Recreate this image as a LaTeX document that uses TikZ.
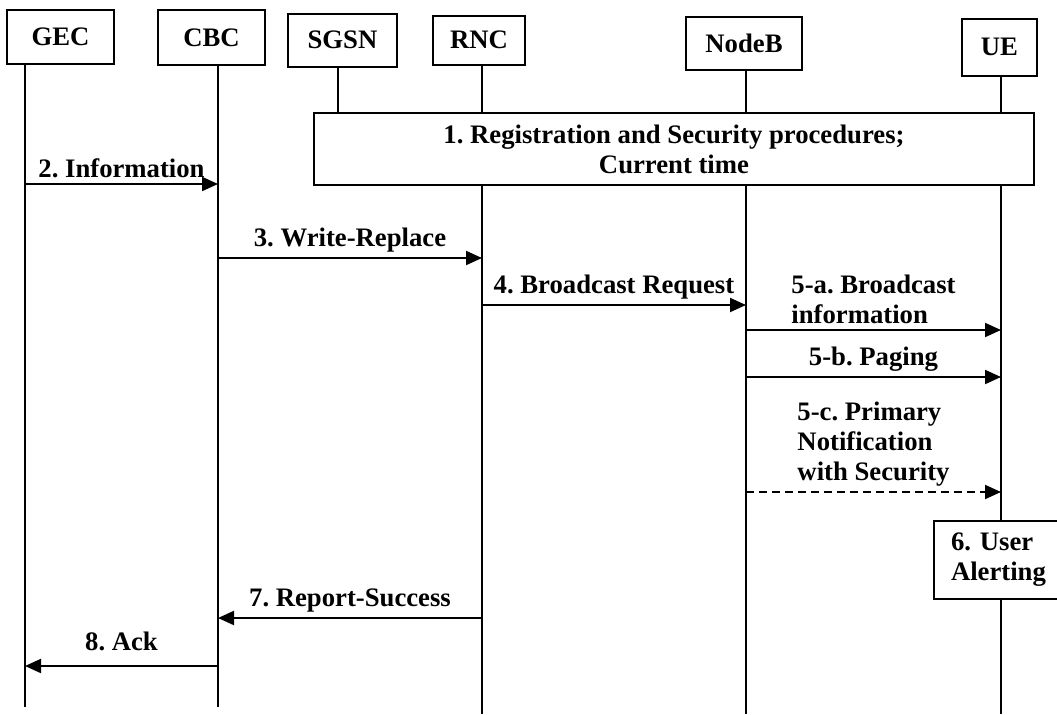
\documentclass[tikz,border=0pt]{standalone}
\usepackage{fontspec}
\setmainfont{Liberation Serif}
\usetikzlibrary{arrows.meta,positioning}
\frenchspacing

\tikzset{
  entity/.style={draw,fill=white,inner sep=0pt},
  msg/.style={-{Triangle[length=8pt,width=7pt]}},
  lbl/.style={inner sep=2.5pt,align=left},
}

\begin{document}
\begin{tikzpicture}[x=0.5pt,y=-0.5pt,line width=1pt,
    every node/.style={font=\fontsize{13.35}{15}\selectfont\bfseries}]
   \useasboundingbox (0,0) rectangle (1057,714);
   % entities
   \node[entity,minimum width=53.5pt,minimum height=27pt] (gec) at (60.5,37) {GEC};
   \node[entity,minimum width=53.5pt,minimum height=27.5pt] (cbc) at (211.5,37.5) {CBC};
   \node[entity,minimum width=54.5pt,minimum height=26.5pt] (sgsn) at (342.5,40) {SGSN};
   \node[entity,minimum width=46pt,minimum height=24.5pt] (rnc) at (479,40) {RNC};
   \node[entity,minimum width=58pt,minimum height=26.5pt] (nodeb) at (744,43.5) {NodeB};
   \node[entity,minimum width=37.5pt,minimum height=28.5pt] (ue) at (999.5,47) {UE};
   % lifelines
   \foreach \n/\x/\e in {gec/25/707,cbc/218/707,sgsn/338/113,rnc/482/714,nodeb/746/714,ue/1001/714}{
     \coordinate (\n-end) at (\x,\e);
     \draw (\n.south -| \n-end) -- (\n-end);
   }
   \node[entity,minimum width=360pt,minimum height=36pt,align=center] (reg) at (674,149)
     {1. Registration and Security procedures;\\Current time};
   \node[entity,minimum width=66pt,minimum height=39pt,inner xsep=8.5pt,text width=49pt,align=left] (alert)
     at (1000,560) {6. User\\Alerting};
   % messages
   \draw[msg] (gec-end |- 0,184) -- node[lbl,above] {2. Information} (cbc-end |- 0,184);
   \draw[msg] (cbc-end |- 0,258) -- node[lbl,above] {3. Write-Replace} (rnc-end |- 0,258);
   \draw[msg] (rnc-end |- 0,305) -- node[lbl,above] {4. Broadcast Request} (nodeb-end |- 0,305);
   \draw[msg] (nodeb-end |- 0,330) -- node[lbl,above] {5-a. Broadcast\\information} (ue-end |- 0,330);
   \draw[msg] (nodeb-end |- 0,377) -- node[lbl,above] {5-b. Paging} (ue-end |- 0,377);
   \draw[msg,dash pattern=on 4pt off 2.5pt] (nodeb-end |- 0,492)
     -- node[lbl,above] {5-c. Primary\\Notification\\with Security} (ue-end |- 0,492);
   \draw[msg] (rnc-end |- 0,618) -- node[lbl,above] {7. Report-Success} (cbc-end |- 0,618);
   \draw[msg] (cbc-end |- 0,666) -- node[lbl,above,yshift=4.5pt] {8. Ack} (gec-end |- 0,666);
\end{tikzpicture}
\end{document}
